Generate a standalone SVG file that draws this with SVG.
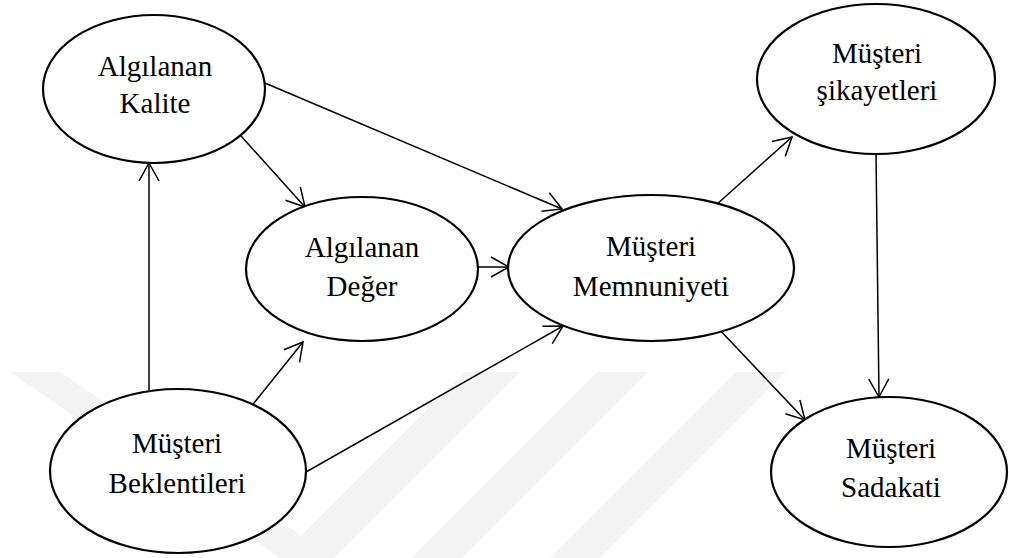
<svg xmlns="http://www.w3.org/2000/svg" width="1009" height="558" viewBox="0 0 1009 558">
<style>
.wm{fill:#f3f3f3;stroke:none}
.node ellipse{fill:#fff;stroke:#000;stroke-width:2.2}
.node text{font-size:29px;fill:#000;text-anchor:middle}
.edges line{stroke:#000;stroke-width:1.5;marker-end:url(#arr)}
</style>
<defs>
<marker id="arr" markerUnits="userSpaceOnUse" markerWidth="24" markerHeight="24" viewBox="-20 -12 24 24" refX="0" refY="0" orient="auto">
<path d="M-18,-10 L0,0 L-18,10" fill="none" stroke="#000" stroke-width="1.5"/>
</marker>
</defs>
<rect width="1009" height="558" fill="#fff"/>
<g id="watermark">
<polygon class="wm" points="10,372 60,372 334,558 280,558"/>
<polygon class="wm" points="465,372 520,372 334,558 279,558"/>
<polygon class="wm" points="597,372 648,372 462,558 411,558"/>
<polygon class="wm" points="736,372 786,372 600,558 550,558"/>
</g>
<g class="edges" id="connectors">
<line x1="241" y1="136" x2="305" y2="207"/>
<line x1="253" y1="78" x2="562" y2="209"/>
<line x1="478" y1="267" x2="509" y2="267"/>
<line x1="149" y1="390" x2="149" y2="163"/>
<line x1="246" y1="413" x2="303" y2="342"/>
<line x1="306" y1="472" x2="563" y2="326"/>
<line x1="716" y1="205" x2="792" y2="137"/>
<line x1="717" y1="327" x2="805" y2="420"/>
<line x1="876" y1="154" x2="879" y2="397"/>
</g>
<g class="node" id="algilanan-kalite" font-family="'Liberation Serif', Tinos, 'Times New Roman', 'DejaVu Serif', serif">
<ellipse cx="154" cy="89" rx="111" ry="74"/>
<text x="155" y="76">Algılanan</text>
<text x="155" y="113">Kalite</text>
</g>
<g class="node" id="algilanan-deger" font-family="'Liberation Serif', Tinos, 'Times New Roman', 'DejaVu Serif', serif">
<ellipse cx="362" cy="269" rx="116" ry="72"/>
<text x="362" y="257">Algılanan</text>
<text x="362" y="296">Değer</text>
</g>
<g class="node" id="musteri-memnuniyeti" font-family="'Liberation Serif', Tinos, 'Times New Roman', 'DejaVu Serif', serif">
<ellipse cx="651" cy="268" rx="143" ry="73"/>
<text x="651" y="256">Müşteri</text>
<text x="651" y="296">Memnuniyeti</text>
</g>
<g class="node" id="musteri-sikayetleri" font-family="'Liberation Serif', Tinos, 'Times New Roman', 'DejaVu Serif', serif">
<ellipse cx="876" cy="79" rx="119" ry="75"/>
<text x="877" y="63">Müşteri</text>
<text x="877" y="100">şikayetleri</text>
</g>
<g class="node" id="musteri-sadakati" font-family="'Liberation Serif', Tinos, 'Times New Roman', 'DejaVu Serif', serif">
<ellipse cx="889" cy="472" rx="118" ry="75"/>
<text x="891" y="458">Müşteri</text>
<text x="891" y="497">Sadakati</text>
</g>
<g class="node" id="musteri-beklentileri" font-family="'Liberation Serif', Tinos, 'Times New Roman', 'DejaVu Serif', serif">
<ellipse cx="178" cy="471" rx="128" ry="82"/>
<text x="177" y="453">Müşteri</text>
<text x="177" y="493">Beklentileri</text>
</g>
</svg>
